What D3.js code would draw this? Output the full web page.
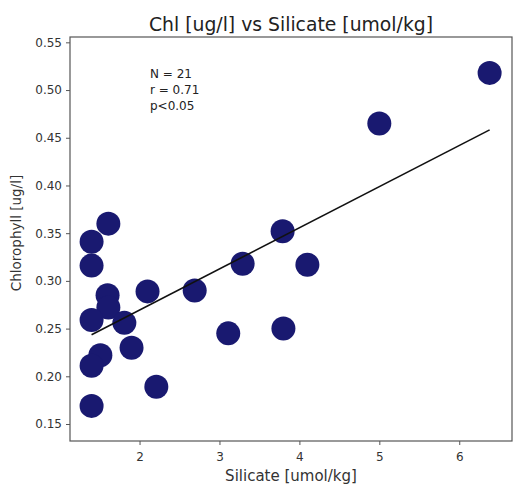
<!DOCTYPE html>
<html>
<head>
<meta charset="utf-8">
<script src="https://cdn.jsdelivr.net/npm/d3@7"></script>
<style>
  html, body { margin: 0; padding: 0; background: #fff; }
  svg { display: block; font-family: "DejaVu Sans", sans-serif; }
</style>
</head>
<body>
<svg id="chart" width="513" height="490"></svg>
<script>
// Station samples: silicate (umol/kg) and chlorophyll (ug/l)
const silicate = [6.38, 5.00, 3.79, 1.61, 1.40, 1.40, 3.29, 4.10, 2.69, 2.10, 1.60,
                  1.61, 1.40, 1.81, 3.11, 3.80, 1.90, 1.51, 1.40, 2.21, 1.40];
const chlorophyll = [0.518, 0.465, 0.352, 0.360, 0.341, 0.316, 0.318, 0.317, 0.290, 0.289, 0.285,
                     0.272, 0.259, 0.256, 0.245, 0.250, 0.230, 0.222, 0.211, 0.189, 0.169];
const xTicks = [2, 3, 4, 5, 6];
const yTicks = [0.15, 0.20, 0.25, 0.30, 0.35, 0.40, 0.45, 0.50, 0.55];
const statsText = ["N = 21", "r = 0.71", "p<0.05"];

const svg = d3.select("#chart");
const plot = { left: 70, right: 512, top: 37, bottom: 441 };

const x = d3.scaleLinear().domain([1.13, 6.66]).range([plot.left, plot.right]);
const y = d3.scaleLinear().domain([0.1322, 0.5556]).range([plot.bottom, plot.top]);

// Points
const pts = silicate.map((s, i) => ({ s, c: chlorophyll[i] }));
svg.append("g").selectAll("circle").data(pts).join("circle")
  .attr("cx", d => x(d.s))
  .attr("cy", d => y(d.c))
  .attr("r", 12)
  .attr("fill", "#191970");

// Least-squares fit over the sampled silicate range
const mx = d3.mean(silicate), my = d3.mean(chlorophyll);
let sxy = 0, sxx = 0;
pts.forEach(d => { sxy += (d.s - mx) * (d.c - my); sxx += (d.s - mx) ** 2; });
const slope = sxy / sxx, intercept = my - slope * mx;
const [x0, x1] = d3.extent(silicate);
svg.append("line")
  .attr("x1", x(x0)).attr("y1", y(intercept + slope * x0))
  .attr("x2", x(x1)).attr("y2", y(intercept + slope * x1))
  .attr("stroke", "#111").attr("stroke-width", 1.6);

// Axes
const axisColor = "#555";
const gx = svg.append("g").attr("transform", `translate(0,${plot.bottom})`)
  .call(d3.axisBottom(x).tickValues(xTicks).tickFormat(d3.format("d")).tickSize(4).tickPadding(7));
const gy = svg.append("g").attr("transform", `translate(${plot.left},0)`)
  .call(d3.axisLeft(y).tickValues(yTicks).tickFormat(d3.format(".2f")).tickSize(4).tickPadding(4));
[gx, gy].forEach(g => {
  g.select(".domain").remove();
  g.selectAll("line").attr("stroke", axisColor);
  g.selectAll("text").attr("fill", "#333").style("font-size", "12px")
    .style("font-family", "DejaVu Sans, sans-serif");
});

// Frame
svg.append("rect")
  .attr("x", plot.left).attr("y", plot.top)
  .attr("width", plot.right - plot.left).attr("height", plot.bottom - plot.top)
  .attr("fill", "none").attr("stroke", axisColor).attr("stroke-width", 1.2);

// Stats annotation
svg.append("g").selectAll("text").data(statsText).join("text")
  .attr("x", 150).attr("y", (d, i) => 78 + i * 16)
  .attr("fill", "#222").style("font-size", "12px")
  .text(d => d);

// Title and axis labels
svg.append("text").attr("x", (plot.left + plot.right) / 2).attr("y", 31)
  .attr("text-anchor", "middle").attr("fill", "#222").style("font-size", "18.8px")
  .text("Chl [ug/l] vs Silicate [umol/kg]");
svg.append("text").attr("x", (plot.left + plot.right) / 2).attr("y", 481)
  .attr("text-anchor", "middle").attr("fill", "#333").style("font-size", "15px")
  .text("Silicate [umol/kg]");
svg.append("text")
  .attr("transform", `translate(21,233) rotate(-90)`)
  .attr("text-anchor", "middle").attr("fill", "#333").style("font-size", "13.5px")
  .text("Chlorophyll [ug/l]");
</script>
</body>
</html>
